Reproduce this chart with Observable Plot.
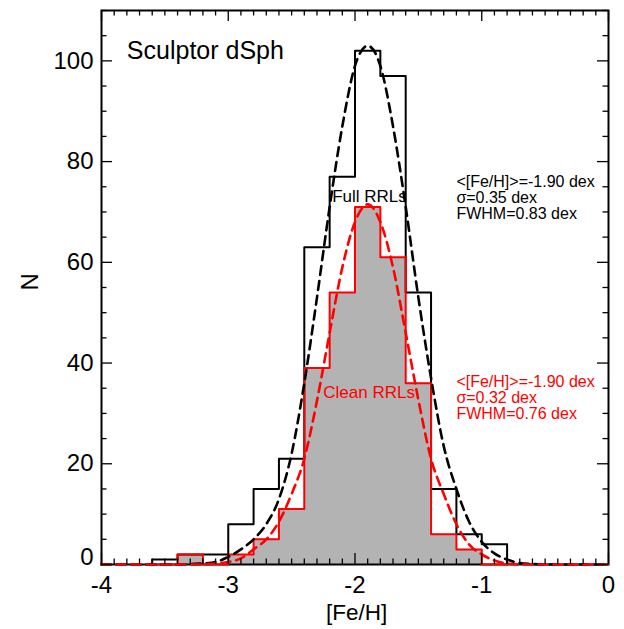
<!DOCTYPE html>
<html><head><meta charset="utf-8">
<script src="https://cdn.jsdelivr.net/npm/d3@7"></script>
<script src="https://cdn.jsdelivr.net/npm/@observablehq/plot@0.6"></script>
<style>html,body{margin:0;padding:0;background:#fff;}</style>
</head><body>
<div id="chart"></div>
<script>
// Histogram bins (left edges), width 0.2 dex
const binLo = [-3.6,-3.4,-3.2,-3.0,-2.8,-2.6,-2.4,-2.2,-2.0,-1.8,-1.6,-1.4,-1.2,-1.0];
const binWidth = 0.2;
const fullN  = [1,2,2,8,15,21,63,77,102,97,54,15,6,4];
const cleanN = [0,2,0,2,5,11,39,54,71,61,36,6,3,0];

// Gaussian fit curves
const fitX = [-4.0,-3.9,-3.8,-3.7,-3.6,-3.5,-3.4,-3.3,-3.2,-3.1,-3.0,-2.9,-2.8,-2.7,-2.6,-2.5,-2.4,-2.3,-2.2,-2.1,-2.0,-1.9,-1.8,-1.7,-1.6,-1.5,-1.4,-1.3,-1.2,-1.1,-1.0,-0.9,-0.8,-0.7,-0.6,-0.5,-0.4,-0.3,-0.2,-0.1,0.0];
const fullFit  = [0,0,0,0,0,0,0,0.1,0.2,0.5,1.5,3,5,8,13,22,36,53,71,87,99,103,99,87,71,53,37,23.5,15,8.5,4.5,2.2,1,0.3,0.1,0,0,0,0,0,0];
const cleanFit = [0,0,0,0,0,0,0,0,0,0.2,0.5,1.2,3,5,8.5,14,21,32.5,46,59,68,71.5,68,59,46,32.7,21,14,8,4,2,0.8,0.2,0,0,0,0,0,0,0,0];

const xTickLabels = [-4,-3,-2,-1,0];
const yTickLabels = [0,20,40,60,80,100];
const fullStats  = ["<[Fe/H]>=-1.90 dex","σ=0.35 dex","FWHM=0.83 dex"];
const cleanStats = ["<[Fe/H]>=-1.90 dex","σ=0.32 dex","FWHM=0.76 dex"];

const W = 624, H = 629, mL = 101, mR = 16, mT = 10, mB = 65;
const innerW = W - mL - mR, innerH = H - mT - mB;

const bins = binLo.map((x0, i) => ({x1: x0, x2: +(x0 + binWidth).toFixed(2), full: fullN[i], clean: cleanN[i]}));
function steps(key) {
  const pts = [{x: bins[0].x1, y: 0}];
  for (const b of bins) { pts.push({x: b.x1, y: b[key]}, {x: b.x2, y: b[key]}); }
  pts.push({x: bins[bins.length - 1].x2, y: 0});
  return pts;
}
const fullFitData = fitX.map((x, i) => ({x, y: fullFit[i]}));
const cleanFitData = fitX.map((x, i) => ({x, y: cleanFit[i]}));

const xMinor = d3.range(-40, 1).map(i => i / 10).filter(v => !xTickLabels.includes(v));
const yMinor = d3.range(0, 111, 5).filter(v => !yTickLabels.includes(v));
const majLen = 11, minLen = 5.5, tw = 1.3;

const font = "'Liberation Sans', Arial, Helvetica, sans-serif";

const chart = Plot.plot({
  width: W, height: H,
  marginLeft: mL, marginRight: mR, marginTop: mT, marginBottom: mB,
  x: {domain: [-4, 0]},
  y: {domain: [0, 110]},
  style: {fontFamily: font, background: "white", color: "black"},
  marks: [
    Plot.areaY(steps("clean"), {x: "x", y1: 0, y2: "y", fill: "#b3b3b3"}),
    Plot.frame({stroke: "black", strokeWidth: 2}),
    Plot.line(steps("full"), {x: "x", y: "y", stroke: "black", strokeWidth: 2}),
    Plot.line(steps("clean"), {x: "x", y: "y", stroke: "#ff0000", strokeWidth: 2}),
    Plot.line(fullFitData, {x: "x", y: "y", stroke: "black", strokeWidth: 2.6, strokeDasharray: "9,6", curve: "monotone-x"}),
    Plot.line(cleanFitData, {x: "x", y: "y", stroke: "#ff0000", strokeWidth: 2.6, strokeDasharray: "9,6", curve: "monotone-x"}),
    // ticks (inward, all four sides)
    Plot.ruleX(xTickLabels, {x: d => d, insetTop: innerH - majLen, strokeWidth: tw}),
    Plot.ruleX(xTickLabels, {x: d => d, insetBottom: innerH - majLen, strokeWidth: tw}),
    Plot.ruleX(xMinor, {x: d => d, insetTop: innerH - minLen, strokeWidth: tw}),
    Plot.ruleX(xMinor, {x: d => d, insetBottom: innerH - minLen, strokeWidth: tw}),
    Plot.ruleY(yTickLabels, {y: d => d, insetRight: innerW - majLen, strokeWidth: tw}),
    Plot.ruleY(yTickLabels, {y: d => d, insetLeft: innerW - majLen, strokeWidth: tw}),
    Plot.ruleY(yMinor, {y: d => d, insetRight: innerW - minLen, strokeWidth: tw}),
    Plot.ruleY(yMinor, {y: d => d, insetLeft: innerW - minLen, strokeWidth: tw}),
    // tick labels
    Plot.axisX(xTickLabels, {tickSize: 0, tickPadding: 11, fontSize: 24, tickFormat: d => String(d), label: null}),
    Plot.axisY(yTickLabels.filter(d => d > 0), {tickSize: 0, tickPadding: 8, fontSize: 24, tickFormat: d => String(d), label: null}),
    Plot.axisY(yTickLabels.filter(d => d === 0), {tickSize: 0, tickPadding: 8, dy: -7, fontSize: 24, tickFormat: d => String(d), label: null}),
    // axis titles
    Plot.text(["[Fe/H]"], {x: -1.988, frameAnchor: "bottom", dy: 55, lineAnchor: "bottom", fontSize: 22.5, fill: "black"}),
    Plot.text(["N"], {frameAnchor: "left", dx: -71, dy: 3, rotate: -90, fontSize: 24, fill: "black"}),
    // annotations
    Plot.text(["Sculptor dSph"], {x: -3.8, y: 100.3, textAnchor: "start", lineAnchor: "bottom", fontSize: 25, fill: "black"}),
    Plot.text(["Full RRLs"], {x: -1.886, y: 72.0, lineAnchor: "bottom", fontSize: 17, fill: "black"}),
    Plot.text(["Clean RRLs"], {x: -1.889, y: 33.0, lineAnchor: "bottom", fontSize: 17, fill: "#ff0000"}),
    Plot.text([fullStats.join("\n")], {x: -1.2, y: 77.3, textAnchor: "start", lineAnchor: "top", lineHeight: 1.0, fontSize: 16, fill: "black"}),
    Plot.text([cleanStats.join("\n")], {x: -1.2, y: 37.5, textAnchor: "start", lineAnchor: "top", lineHeight: 1.0, fontSize: 16, fill: "#ff0000"})
  ]
});
document.getElementById("chart").appendChild(chart);
</script>
</body></html>
